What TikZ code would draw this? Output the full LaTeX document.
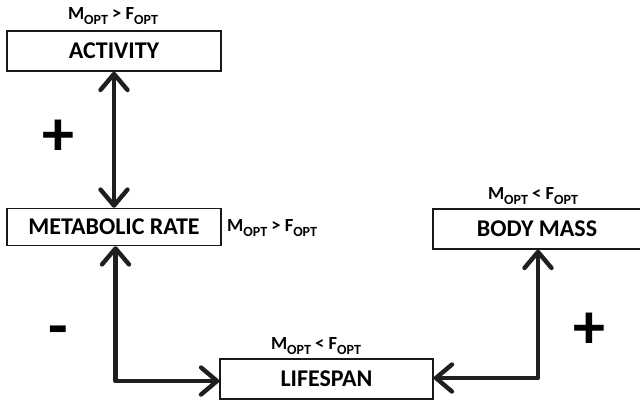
\documentclass[tikz,border=0pt]{standalone}
\usepackage{fontspec}
\setmainfont{Carlito}
\usetikzlibrary{arrows.meta}
\newcommand{\optsub}{\raisebox{-0.3em}{\fontsize{14}{14}\selectfont OPT}}
\newcommand{\mlabel}[1]{M\optsub\ #1\ F\optsub}
\tikzset{
  box/.style={draw=black!90, line width=1.5pt, fill=white, minimum height=40pt, inner sep=0pt,
    font=\bfseries\fontsize{24}{24}\selectfont},
  cond/.style={font=\bfseries\fontsize{18.5}{18.5}\selectfont, inner sep=0pt},
  sign/.style={font=\bfseries\fontsize{64}{64}\selectfont, inner sep=0pt},
  link/.style={line width=4.4pt, draw=black!88, line join=round,
    {Straight Barb[length=16pt,width=27pt,round]}-{Straight Barb[length=16pt,width=27pt,round]}}
}
\begin{document}
\begin{tikzpicture}[x=1pt,y=-1pt]
\useasboundingbox (0,0) rectangle (640,400);
\node[box, minimum width=214pt] (act) at (114,51) {ACTIVITY};
\node[box, minimum width=214pt, minimum height=37pt] (met) at (114,227) {METABOLIC RATE};
\node[box, minimum width=208pt] (body) at (537,229) {BODY MASS};
\node[box, minimum width=213pt] (life) at (326.5,379) {LIFESPAN};
\node[cond] (c1) at (113,16) {\mlabel{>}};
\node[cond, anchor=west] (c2) at (227,228) {\mlabel{>}};
\node[cond] (c3) at (533,196) {\mlabel{<}};
\node[cond] (c4) at (316,346) {\mlabel{<}};
\node[sign] (p1) at (58,138) {+};
\node[sign] (m1) at (58,337) {-};
\node[sign] (p2) at (589,331) {+};
\coordinate (lc) at (115.5,381);
\coordinate (rc) at (538,378);
\draw[link] (act.south) -- (met.north);
\draw[link] (met.south -| lc) -- (lc) -- (life.west |- lc);
\draw[link] (body.south -| rc) -- (rc) -- (life.east |- rc);
\end{tikzpicture}
\end{document}
